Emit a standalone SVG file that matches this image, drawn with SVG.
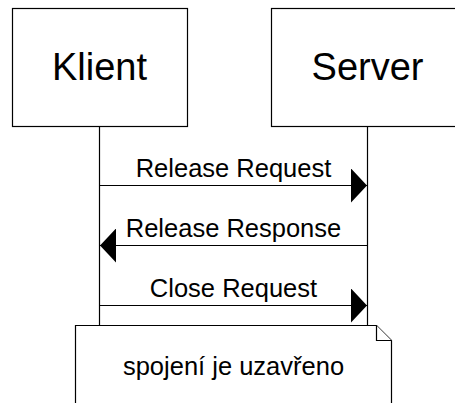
<svg xmlns="http://www.w3.org/2000/svg" width="455" height="403" viewBox="0 0 455 403">
  <style>
    .box { fill: #ffffff; stroke: #000000; stroke-width: 1.2; }
    .life { stroke: #000000; stroke-width: 1.2; fill: none; }
    .msg { stroke: #000000; stroke-width: 1.2; fill: none; }
    .title { font-family: "Liberation Sans", Arial, sans-serif; font-size: 38px; fill: #000000; text-anchor: middle; }
    .label { font-family: "Liberation Sans", Arial, sans-serif; font-size: 25.5px; fill: #000000; text-anchor: middle; }
  </style>
  <defs>
    <marker id="head" markerUnits="userSpaceOnUse" markerWidth="16" markerHeight="34" refX="16" refY="17" orient="auto">
      <path d="M0,0 L16,17 L0,34 Z" fill="#000000"/>
    </marker>
  </defs>

  <rect width="455" height="403" fill="#ffffff"/>

  <!-- lifelines -->
  <g id="lifelines">
    <line class="life" x1="99.5" y1="126.5" x2="99.5" y2="326"/>
    <line class="life" x1="367.5" y1="126.5" x2="367.5" y2="326"/>
  </g>

  <g id="klient">
    <rect class="box" x="12.5" y="8.5" width="175" height="118"/>
    <text class="title" x="99.5" y="79.5">Klient</text>
  </g>

  <g id="server">
    <rect class="box" x="271.5" y="8.5" width="192" height="118"/>
    <text class="title" x="367.5" y="79.5">Server</text>
  </g>

  <!-- messages -->
  <g id="connectors">
    <line class="msg" x1="99.5" y1="185.5" x2="367" y2="185.5" marker-end="url(#head)"/>
    <text class="label" x="233.5" y="176.5">Release Request</text>

    <line class="msg" x1="367.5" y1="245.5" x2="100" y2="245.5" marker-end="url(#head)"/>
    <text class="label" x="233.5" y="236.5">Release Response</text>

    <line class="msg" x1="99.5" y1="305.5" x2="367" y2="305.5" marker-end="url(#head)"/>
    <text class="label" x="233.5" y="296.5">Close Request</text>
  </g>

  <!-- note with folded corner -->
  <g id="note">
    <path class="box" d="M75.5,325.5 L376.5,325.5 L391.5,340.5 L391.5,410 L75.5,410 Z"/>
    <path class="box" d="M376.5,325.5 L376.5,340.5 L391.5,340.5"/>
    <text class="label" x="233.5" y="375">spojení je uzavřeno</text>
  </g>
</svg>
